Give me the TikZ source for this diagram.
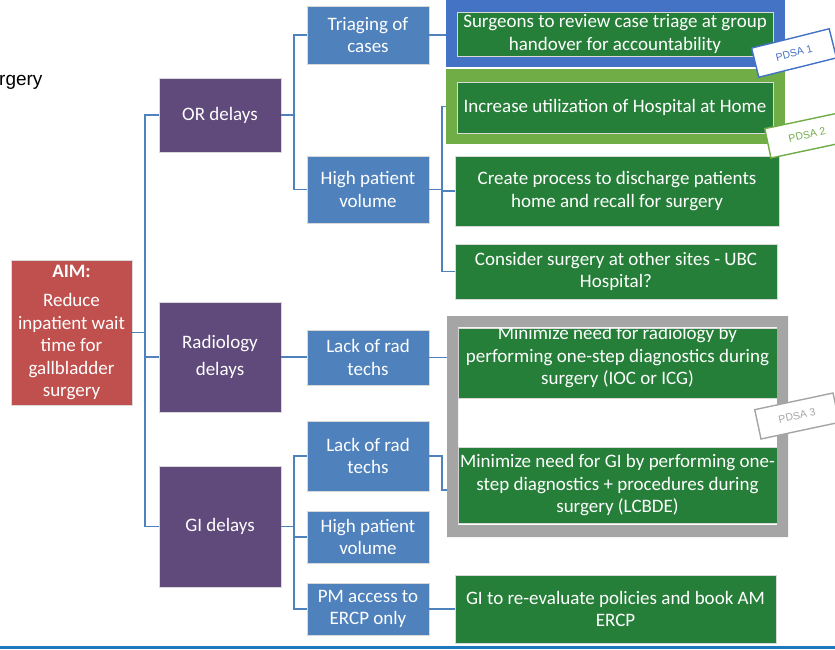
\documentclass[tikz,border=0pt]{standalone}
\usepackage{fontspec}
\setmainfont{Carlito}
\newfontfamily\arialfont{Liberation Sans}
\definecolor{aimred}{RGB}{192,80,77}
\definecolor{delpurple}{RGB}{96,74,123}
\definecolor{causeblue}{RGB}{79,129,189}
\definecolor{actgreen}{RGB}{38,127,57}
\definecolor{frameblue}{RGB}{68,114,196}
\definecolor{framegreen}{RGB}{112,173,71}
\definecolor{framegray}{RGB}{165,165,165}
\definecolor{linkblue}{RGB}{79,129,189}
\definecolor{baseblue}{RGB}{30,120,190}
\begin{document}
\begin{tikzpicture}[x=1pt,y=-1pt,
  box/.style={inner sep=0pt, text=white, align=center, draw=white!85!black, line width=0.5pt,
    font=\fontsize{19}{22.5}\selectfont},
  aimbox/.style={box, fill=aimred},
  delbox/.style={box, fill=delpurple, minimum width=122pt},
  causebox/.style={box, fill=causeblue, minimum width=122pt},
  actbox/.style={box, fill=actgreen},
  txt/.style={inner sep=0pt, text=white, align=center, font=\fontsize{19}{22.5}\selectfont},
  link/.style={draw=linkblue, line width=1.3pt},
  pdsa/.style={draw=#1, fill=white, line width=1.4pt, text=#1, minimum width=80pt, minimum height=30pt,
    inner sep=0pt, font=\arialfont\fontsize{10.5}{12}\selectfont},
]
\useasboundingbox (0,0) rectangle (835,649);

% title fragment
\node[anchor=base west, inner sep=0pt, font=\arialfont\fontsize{19}{20}\selectfont] (title) at (-1,85) {rgery};

% AIM
\node[aimbox, minimum width=121pt, minimum height=145pt] (aim) at (71.5,332.5)
  {\textbf{AIM:}\\[7pt]Reduce\\inpatient wait\\time for\\gallbladder\\surgery};

% delays
\node[delbox, minimum height=74pt] (or) at (220,115) {OR delays};
\node[delbox, minimum height=110pt] (rad) at (220,357) {Radiology\\[4pt]delays};
\node[delbox, minimum height=121pt] (gi) at (220,526.5) {GI delays};

% causes
\node[causebox, minimum height=58pt] (tri) at (368,35) {Triaging of\\cases};
\node[causebox, minimum height=67pt] (hpv1) at (368,189.5) {High patient\\volume};
\node[causebox, minimum height=55pt] (lrt1) at (368,357.5) {Lack of rad\\techs};
\node[causebox, minimum height=70pt] (lrt2) at (368,456) {Lack of rad\\techs};
\node[causebox, minimum height=52pt] (hpv2) at (368,537) {High patient\\volume};
\node[causebox, minimum height=52pt] (pm) at (368,609) {PM access to\\ERCP only};

% frames PDSA1 / PDSA2
\node[fill=frameblue, inner sep=0pt, minimum width=339pt, minimum height=72pt] (bframe) at (615.5,31) {};
\node[fill=framegreen, inner sep=0pt, minimum width=339pt, minimum height=75pt] (lgframe) at (615.5,106.5) {};

% actions
\node[actbox, minimum width=316pt, minimum height=44pt] (surg) at (615,34)
  {Surgeons to review case triage at group\\handover for accountability};
\node[actbox, minimum width=316pt, minimum height=51pt] (incr) at (615,107.5)
  {Increase utilization of Hospital at Home};
\node[actbox, minimum width=324pt, minimum height=70pt] (create) at (617,191)
  {Create process to discharge patients\\home and recall for surgery};
\node[actbox, minimum width=322pt, minimum height=55pt] (consider) at (616,271.5)
  {Consider surgery at other sites - UBC\\Hospital?};
\node[actbox, minimum width=319pt, minimum height=70pt] (minrad) at (617.5,363) {};
\node[txt] (minradt) at (617.5,357.5)
  {Minimize need for radiology by\\performing one-step diagnostics during\\surgery (IOC or ICG)};
\node[actbox, minimum width=319pt, minimum height=76pt] (mingi) at (617.5,485.5)
  {Minimize need for GI by performing one-\\step diagnostics + procedures during\\surgery (LCBDE)};
\node[actbox, minimum width=321pt, minimum height=68pt] (gire) at (615.5,609)
  {GI to re-evaluate policies and book AM\\ERCP};

% gray frame (PDSA 3)
\node[inner sep=0pt, minimum width=341pt, minimum height=221pt] (gframe) at (617.5,426.5) {};
\fill[framegray, even odd rule] (447,316) rectangle (788,537) (458,327) rectangle (777,525);

% junctions
\coordinate (j0) at (145,332.5);
\coordinate (j1) at (294,115);
\coordinate (j2) at (442,189.5);
\coordinate (j3) at (294,526.5);
\coordinate (j4) at (442,456);

% connectors
\draw[link] (aim.east) -- (j0);
\draw[link] (j0) |- (or.west);
\draw[link] (j0) |- (rad.west);
\draw[link] (j0) |- (gi.west);
\draw[link] (or.east) -- (j1);
\draw[link] (j1) |- (tri.west);
\draw[link] (j1) |- (hpv1.west);
\draw[link] (tri.east) -- (bframe.west |- tri.east);
\draw[link] (hpv1.east) -- (j2);
\draw[link] (j2) |- (lgframe.west);
\draw[link] (j2) |- (create.west);
\draw[link] (j2) |- (consider.west);
\draw[link] (rad.east) -- (lrt1.west |- rad.east);
\draw[link] (lrt1.east) -- (gframe.west |- lrt1.east);
\draw[link] (gi.east) -- (j3);
\draw[link] (j3) |- (lrt2.west);
\draw[link] (j3) |- (hpv2.west);
\draw[link] (j3) |- (pm.west);
\draw[link] (lrt2.east) -- (j4) |- (gframe.west |- 0,490);
\draw[link] (pm.east) -- (gire.west);

% PDSA labels
\node[pdsa=frameblue, rotate=14] (p1) at (794,53) {PDSA 1};
\node[pdsa=framegreen, rotate=12] (p2) at (807,135) {PDSA 2};
\node[pdsa=framegray, rotate=12] (p3) at (797,416) {PDSA 3};

% bottom rule
\draw[baseblue, line width=2.5pt] (0,647.5) -- (835,647.5);
\end{tikzpicture}
\end{document}
